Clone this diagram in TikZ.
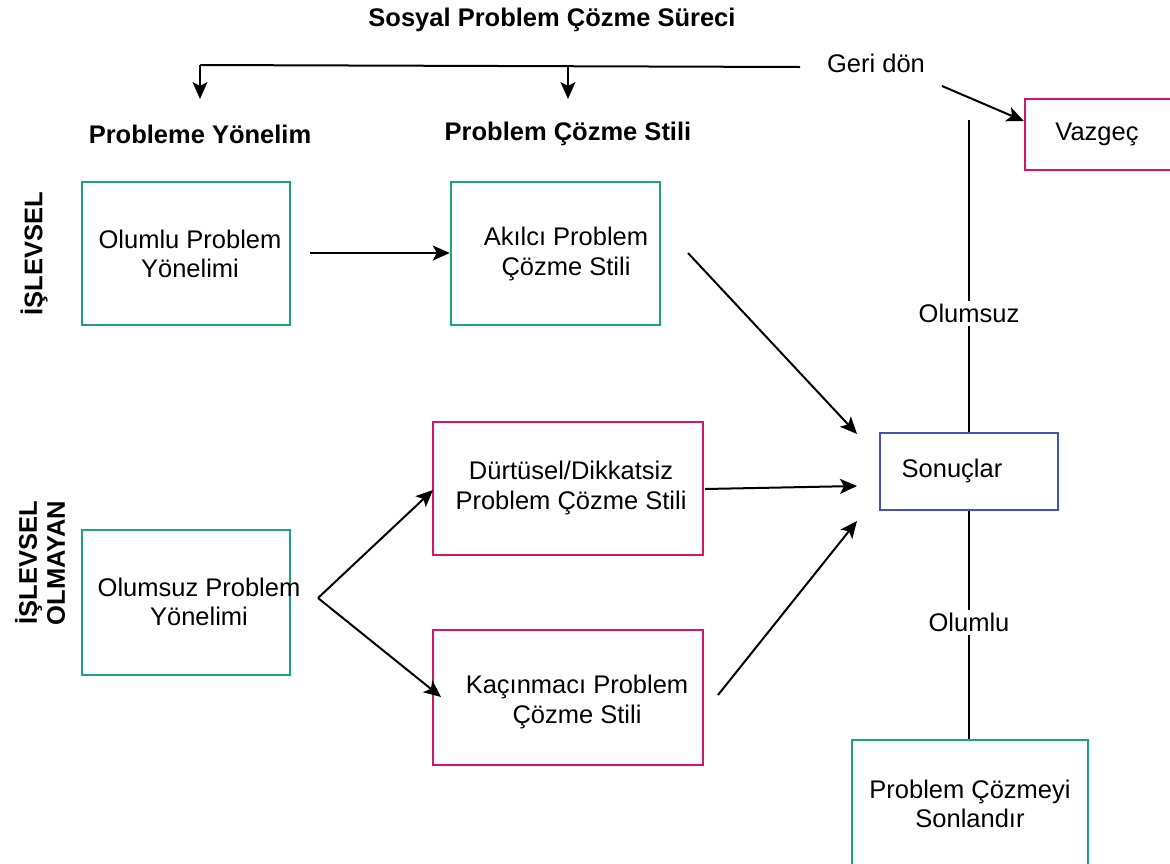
\documentclass[tikz,border=0pt]{standalone}
\usepackage{fontspec}
\setmainfont{Liberation Sans}
\usetikzlibrary{arrows.meta}
\definecolor{tealg}{RGB}{26,163,132}
\definecolor{magb}{RGB}{214,20,110}
\definecolor{blueb}{RGB}{72,80,192}
\tikzset{
  box/.style={draw=#1, line width=2.4pt, inner sep=0pt},
  txt/.style={align=center, font=\fontsize{25.5}{29.5}\selectfont, inner sep=0pt},
  head/.style={font=\bfseries\fontsize{25.5}{28}\selectfont},
  lbl/.style={font=\fontsize{25.5}{29}\selectfont, fill=white, inner sep=3pt},
  conn/.style={line width=2pt, -{Stealth[length=17pt,width=15pt,inset=4pt]}},
  plain/.style={line width=2pt},
}
\begin{document}
\begin{tikzpicture}[x=1pt,y=-1pt]
\useasboundingbox (0,0) rectangle (1170,863);
% headings
\node[head] (title) at (552,20) {Sosyal Problem Çözme Süreci};
\node[head] (h1) at (200,134) {Probleme Yönelim};
\node[head] (h2) at (568,134) {Problem Çözme Stili};
\node[head, rotate=90] (sideA) at (34,254) {İŞLEVSEL};
\node[head, rotate=90, align=center] (sideB) at (40,563) {İŞLEVSEL\\OLMAYAN};
% boxes
\node[box=tealg, minimum width=208pt, minimum height=143pt] (olumlu) at (186,253.5) {};
\node[txt] (olumlut) at (190,254) {Olumlu Problem\\Yönelimi};
\node[box=tealg, minimum width=209pt, minimum height=143pt] (akilci) at (555.5,253.5) {};
\node[txt] (akilcit) at (566,254) {Akılcı Problem\\Çözme Stili};
\node[box=magb, minimum width=270pt, minimum height=133pt] (durtu) at (568,488.5) {};
\node[txt] (durtut) at (571,488) {Dürtüsel/Dikkatsiz\\Problem Çözme Stili};
\node[box=magb, minimum width=270pt, minimum height=135pt] (kacin) at (568,697.5) {};
\node[txt] (kacint) at (577,702) {Kaçınmacı Problem\\Çözme Stili};
\node[box=tealg, minimum width=208pt, minimum height=145pt] (olumsuzY) at (186,602.5) {};
\node[txt] (olumsuzYt) at (199,602) {Olumsuz Problem\\Yönelimi};
\node[box=blueb, minimum width=178pt, minimum height=77pt] (sonuc) at (969,471.5) {};
\node[txt] (sonuctxt) at (952,471) {Sonuçlar};
\node[box=magb, minimum width=150pt, minimum height=71pt] (vazgec) at (1100,134.5) {};
\node[txt] (vazgectxt) at (1097,134) {Vazgeç};
\node[box=tealg, minimum width=236pt, minimum height=128pt] (sonlan) at (970,804) {};
\node[txt] (sonlant) at (970,804) {Problem Çözmeyi\\Sonlandır};
% geri dön
\node[txt] (geri) at (876,63) {Geri dön};
\coordinate (gL) at (200,65);
\coordinate (gM) at (568,66);
\coordinate (gR) at (800,67);
\draw[plain] (gR) -- (gL);
\draw[conn] (gL) -- (200,99);
\draw[conn] (gM) -- (568,99);
\draw[conn] (942,86) -- (vazgec.west |- 0,121);
% vertical lines
\coordinate (vtop) at (969,120);
\draw[plain] (vtop) -- (sonuc.north -| vtop) node[lbl, pos=0.62, inner xsep=0pt] (olumsuzL) {Olumsuz};
\draw[plain] (sonuc.south -| vtop) -- (sonlan.north -| vtop) node[lbl, pos=0.49, inner xsep=0pt] (olumluL) {Olumlu};
% arrows
\draw[conn] (310,253) -- (akilci.west |- 0,253);
\draw[conn] (688,253) -- (857,434);
\draw[conn] (705,489) -- (857,486);
\draw[conn] (718,695) -- (857,521);
\draw[conn] (318,598) -- (433,490);
\draw[conn] (318,598) -- (441,697);
\end{tikzpicture}
\end{document}
